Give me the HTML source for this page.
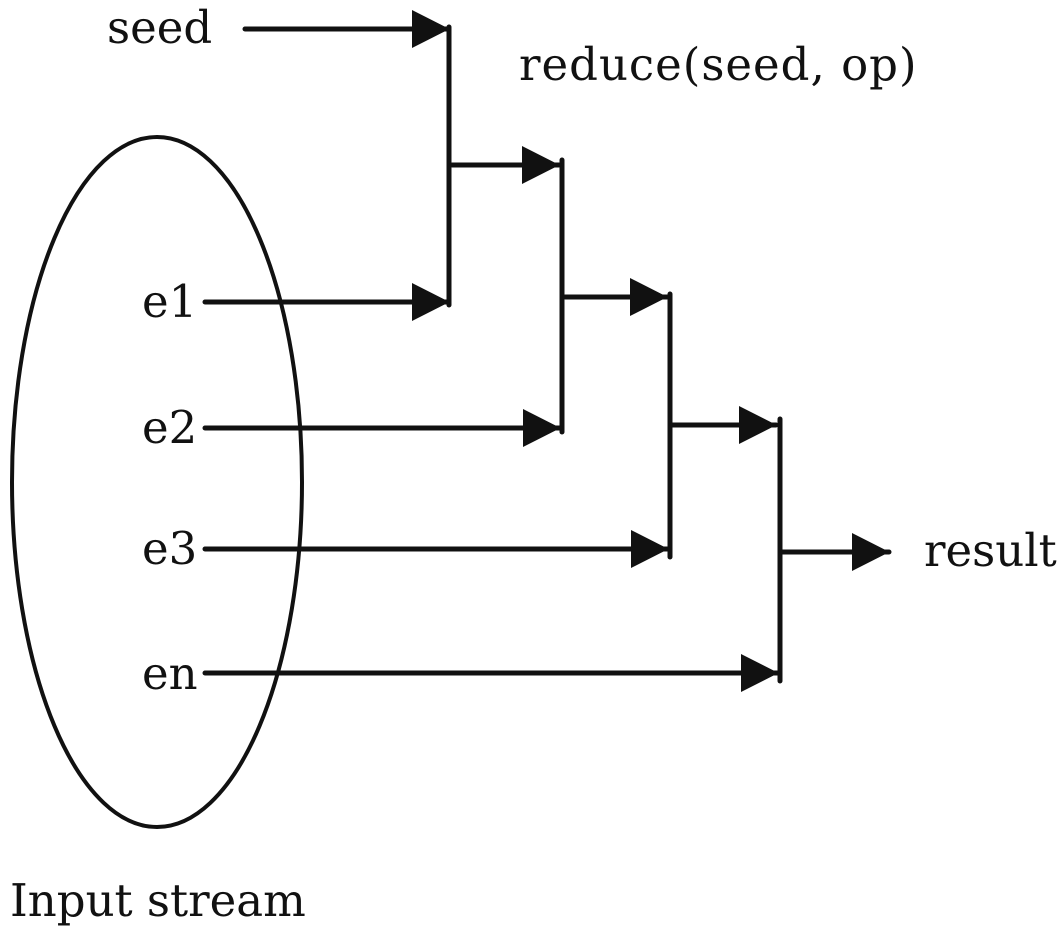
<!DOCTYPE html>
<html><head><style>
body{margin:0;background:#fff;}
svg{display:block;}
text{font-family:"DejaVu Serif","Liberation Serif",serif;font-size:45px;fill:#111;}
</style></head><body>
<svg width="1063" height="933" viewBox="0 0 1063 933">
<defs>
<marker id="a" markerWidth="8" markerHeight="8" refX="7.4" refY="3.8" orient="auto" markerUnits="strokeWidth">
<path d="M0,0 L7.5,3.8 L0,7.6 Z" fill="#111"/>
</marker>
</defs>
<g stroke="#111" stroke-width="5" fill="none" stroke-linecap="round">
<ellipse cx="157" cy="482" rx="145" ry="345" stroke-width="4"/>
<line x1="449" y1="27" x2="449" y2="305"/>
<line x1="562" y1="160" x2="562" y2="432"/>
<line x1="670" y1="294" x2="670" y2="557"/>
<line x1="780" y1="419" x2="780" y2="681"/>
<g marker-end="url(#a)">
<line x1="245" y1="29" x2="449" y2="29"/>
<line x1="205" y1="302" x2="449" y2="302"/>
<line x1="452" y1="165" x2="559" y2="165"/>
<line x1="205" y1="428" x2="560" y2="428"/>
<line x1="565" y1="297" x2="667" y2="297"/>
<line x1="205" y1="549" x2="668" y2="549"/>
<line x1="672" y1="425" x2="776" y2="425"/>
<line x1="205" y1="673" x2="778" y2="673"/>
<line x1="782" y1="552" x2="889" y2="552"/>
</g>
</g>
<text x="107" y="43">seed</text>
<text x="519" y="80" letter-spacing="1">reduce(seed, op)</text>
<text x="142" y="317">e1</text>
<text x="142" y="443">e2</text>
<text x="142" y="564">e3</text>
<text x="142" y="689">en</text>
<text x="924" y="566">result</text>
<text x="10" y="916">Input stream</text>
</svg>
</body></html>
